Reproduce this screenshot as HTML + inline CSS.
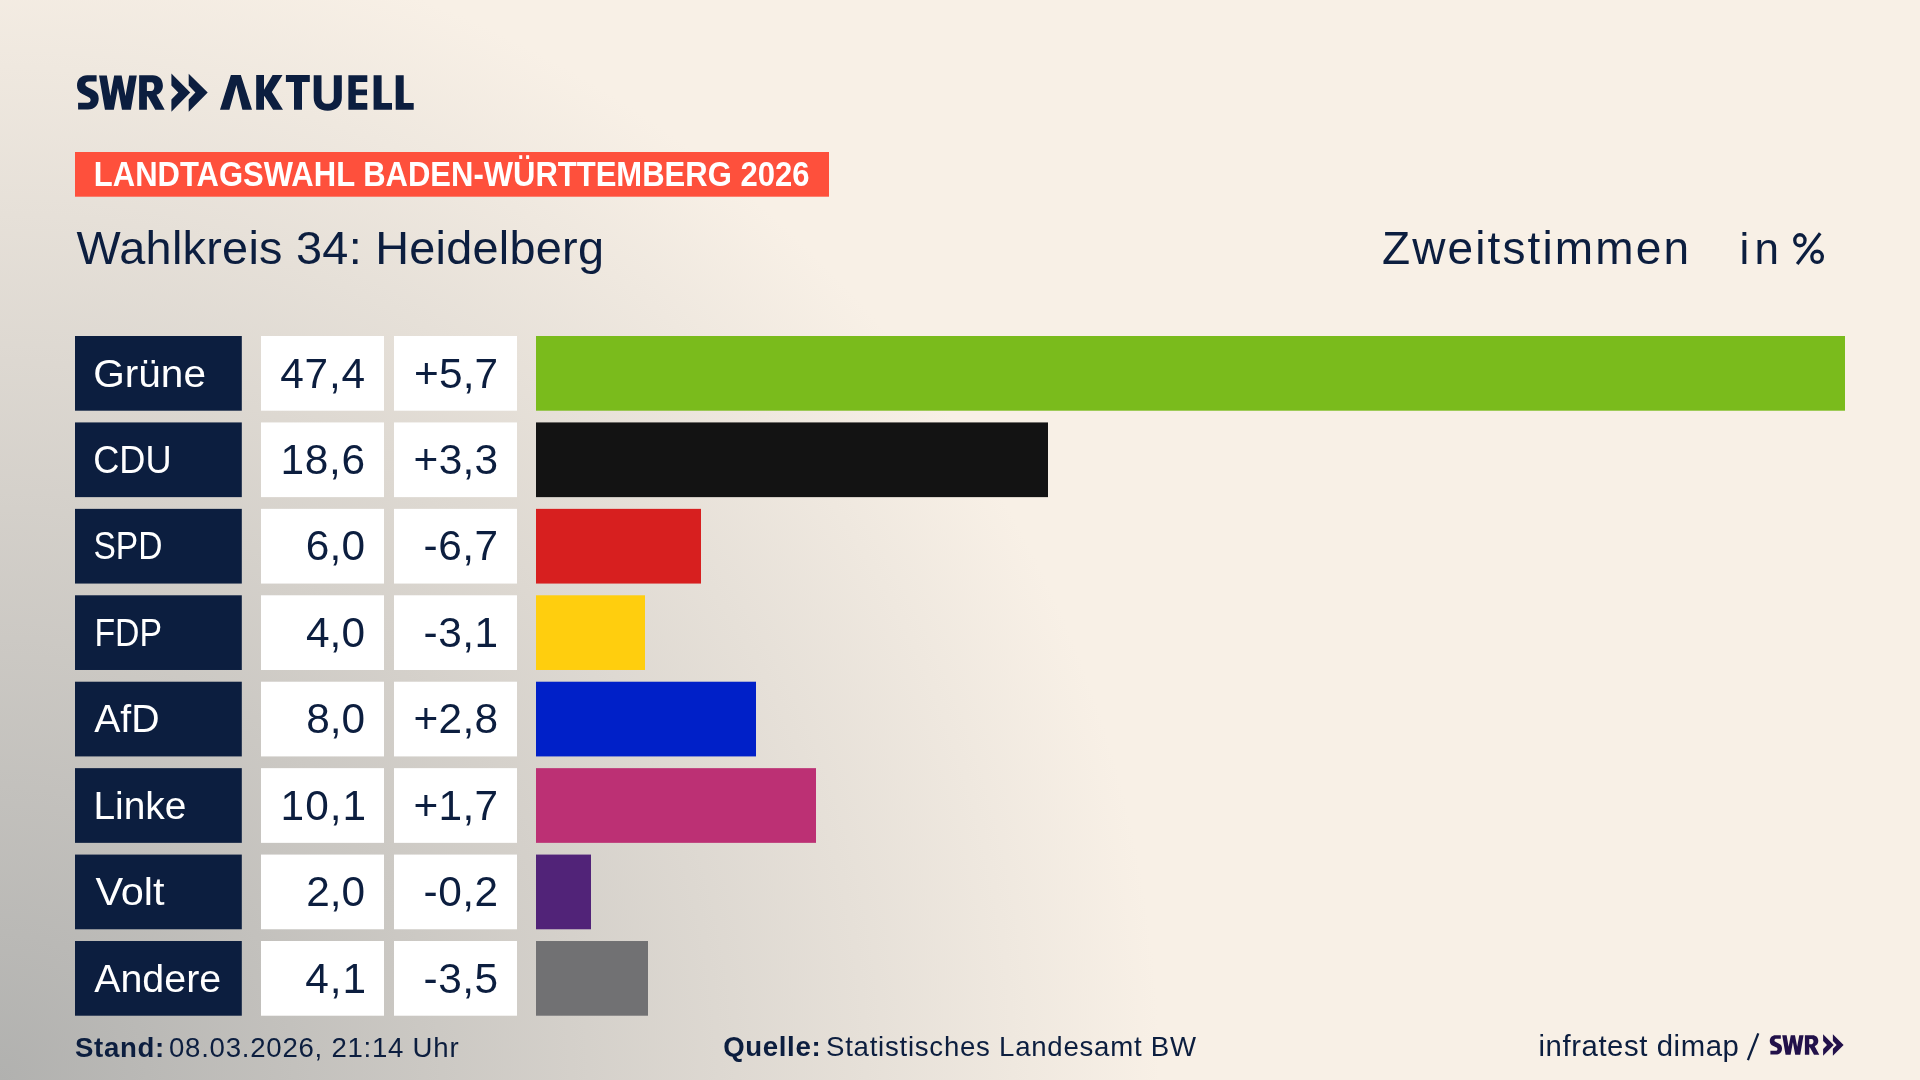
<!DOCTYPE html>
<html><head><meta charset="utf-8">
<style>
html,body{margin:0;padding:0;}
body{width:1920px;height:1080px;overflow:hidden;position:relative;background:#f8f0e6;}
svg{position:absolute;left:0;top:0;will-change:transform;}
text{font-family:"Liberation Sans",sans-serif;}
</style></head><body>
<svg width="1920" height="1080" viewBox="0 0 1920 1080">
<defs>
<radialGradient id="g1" gradientUnits="userSpaceOnUse" cx="0" cy="1080" r="1160">
<stop offset="0" stop-color="#b1b1af"/>
<stop offset="1" stop-color="#f8f0e6"/>
</radialGradient>
<g id="swrp">
<path d="M96.6,75.3 V81.4 H88.8 C86.5,81.4 85.3,82.6 85.3,84.2 C85.3,85.9 86.7,86.8 88.6,87.7 L93.6,90.2 C96.9,91.8 98.7,94.5 98.7,98.6 C98.7,105.2 94.5,109.6 88,109.6 H78.1 V102.7 H87.7 C89.6,102.7 90.6,101.6 90.6,100 C90.6,98.5 89.7,97.6 87.9,96.8 L82.4,94.1 C78.7,92.3 77,89.5 77,85.6 C77,79.5 81,75.3 87.2,75.3 Z"/>
<path d="M99.04,75.5 L106.8,75.5 L110.33,95.9 L114.2,75.5 L121.6,75.5 L125.5,95.9 L129.2,75.5 L136.8,75.5 L130.9,109.8 L122,109.8 L117.9,87.9 L113.85,109.8 L104.96,109.8 Z"/>
<path fill-rule="evenodd" d="M139.15,75.33 H152.7 C159,75.33 162.9,79.5 162.9,85.7 C162.9,90 160.5,93.3 156.5,94.8 L164.7,109.8 H155.3 L147.9,96.4 H146.9 V109.8 H139.15 Z M146.9,82.2 H151.2 C153.2,82.2 154.3,84 154.3,86.6 C154.3,89.3 153.2,91.1 151.2,91.1 H146.9 Z"/>
<path d="M171.4,73.5 L190.2,92.5 L171.4,111.7 V99.6 L178.3,92.5 L171.4,85.6 Z"/>
<path d="M188.7,73.7 L207.7,92.5 L188.7,111.7 V99.4 L195.4,92.5 L188.7,85.6 Z"/>
</g>
</defs>
<rect x="0" y="0" width="1920" height="1080" fill="#f8f0e6"/>
<rect x="0" y="0" width="1920" height="1080" fill="url(#g1)"/>
<use href="#swrp" fill="#0c1e3f"/>
<g fill="#0c1e3f">
<path d="M230.9,75 H240.8 L252,109.8 H242.4 L236.4,85.1 L229.4,109.8 H220 Z"/>
<path d="M256.2,75 H264 V89.8 L272.6,75 H282.5 L271.8,91.9 L283,109.8 H273.1 L264.5,96 L264,96.8 V109.8 H256.2 Z"/>
<path d="M285.9,75 H309.8 V82 H302 V109.8 H294 V82 H285.9 Z"/>
<path d="M313.7,75.2 H321.5 V98 C321.5,101.8 323.8,103.8 327.6,103.8 C331.4,103.8 333.8,101.8 333.8,98 V75.2 H341.8 V97.5 C341.8,105.8 336.4,110.7 327.7,110.7 C319,110.7 313.7,105.8 313.7,97.5 Z"/>
<path d="M348.4,75.2 H367.3 V82 H355.8 V89.5 H367 V95.2 H355.8 V103 H367.3 V109.8 H348.4 Z"/>
<path d="M373.6,75.2 H381.6 V103 H392 V109.8 H373.6 Z"/>
<path d="M395.7,75.2 H403.7 V103 H413.7 V109.8 H395.7 Z"/>
</g>
<rect x="75" y="152" width="754" height="44.7" fill="#fe503c"/>

<rect x="75" y="336.00" width="166.8" height="74.7" fill="#0c1e3f"/>
<rect x="261" y="336.00" width="123" height="74.7" fill="#fff"/>
<rect x="394" y="336.00" width="123" height="74.7" fill="#fff"/>
<rect x="536" y="336.00" width="1309" height="74.7" fill="#7abb1c"/>
<rect x="75" y="422.43" width="166.8" height="74.7" fill="#0c1e3f"/>
<rect x="261" y="422.43" width="123" height="74.7" fill="#fff"/>
<rect x="394" y="422.43" width="123" height="74.7" fill="#fff"/>
<rect x="536" y="422.43" width="512" height="74.7" fill="#131313"/>
<rect x="75" y="508.86" width="166.8" height="74.7" fill="#0c1e3f"/>
<rect x="261" y="508.86" width="123" height="74.7" fill="#fff"/>
<rect x="394" y="508.86" width="123" height="74.7" fill="#fff"/>
<rect x="536" y="508.86" width="165" height="74.7" fill="#d71f1f"/>
<rect x="75" y="595.29" width="166.8" height="74.7" fill="#0c1e3f"/>
<rect x="261" y="595.29" width="123" height="74.7" fill="#fff"/>
<rect x="394" y="595.29" width="123" height="74.7" fill="#fff"/>
<rect x="536" y="595.29" width="109" height="74.7" fill="#ffce0e"/>
<rect x="75" y="681.72" width="166.8" height="74.7" fill="#0c1e3f"/>
<rect x="261" y="681.72" width="123" height="74.7" fill="#fff"/>
<rect x="394" y="681.72" width="123" height="74.7" fill="#fff"/>
<rect x="536" y="681.72" width="220" height="74.7" fill="#0020c8"/>
<rect x="75" y="768.15" width="166.8" height="74.7" fill="#0c1e3f"/>
<rect x="261" y="768.15" width="123" height="74.7" fill="#fff"/>
<rect x="394" y="768.15" width="123" height="74.7" fill="#fff"/>
<rect x="536" y="768.15" width="280" height="74.7" fill="#bc3074"/>
<rect x="75" y="854.58" width="166.8" height="74.7" fill="#0c1e3f"/>
<rect x="261" y="854.58" width="123" height="74.7" fill="#fff"/>
<rect x="394" y="854.58" width="123" height="74.7" fill="#fff"/>
<rect x="536" y="854.58" width="55" height="74.7" fill="#512378"/>
<rect x="75" y="941.01" width="166.8" height="74.7" fill="#0c1e3f"/>
<rect x="261" y="941.01" width="123" height="74.7" fill="#fff"/>
<rect x="394" y="941.01" width="123" height="74.7" fill="#fff"/>
<rect x="536" y="941.01" width="112" height="74.7" fill="#717173"/>
<text x="93.80" y="186.25" font-size="34.5" font-weight="bold" fill="#fff" textLength="715.60" lengthAdjust="spacingAndGlyphs">LANDTAGSWAHL BADEN-WÜRTTEMBERG 2026</text>
<text x="76.60" y="263.90" font-size="46.8" fill="#0c1e3f" textLength="527.40" lengthAdjust="spacing">Wahlkreis 34: Heidelberg</text>
<text x="1382.00" y="263.75" font-size="46" fill="#0c1e3f" textLength="307.00" lengthAdjust="spacing">Zweitstimmen</text>
<text x="1739.60" y="263.75" font-size="44" fill="#0c1e3f" textLength="39.40" lengthAdjust="spacing">in</text>
<text x="93.20" y="386.60" font-size="38.5" fill="#fff" textLength="112.80" lengthAdjust="spacingAndGlyphs">Grüne</text>
<text x="280.20" y="387.60" font-size="42.4" fill="#0c1e3f" textLength="84.80" lengthAdjust="spacing">47,4</text>
<text x="414.00" y="387.60" font-size="42.4" fill="#0c1e3f" textLength="84.20" lengthAdjust="spacing">+5,7</text>
<text x="93.20" y="473.03" font-size="38.5" fill="#fff" textLength="78.40" lengthAdjust="spacingAndGlyphs">CDU</text>
<text x="280.40" y="474.03" font-size="42.4" fill="#0c1e3f" textLength="84.60" lengthAdjust="spacing">18,6</text>
<text x="413.60" y="474.03" font-size="42.4" fill="#0c1e3f" textLength="84.60" lengthAdjust="spacing">+3,3</text>
<text x="93.40" y="559.46" font-size="38.5" fill="#fff" textLength="69.00" lengthAdjust="spacingAndGlyphs">SPD</text>
<text x="305.80" y="560.46" font-size="42.4" fill="#0c1e3f" textLength="59.20" lengthAdjust="spacing">6,0</text>
<text x="423.60" y="560.46" font-size="42.4" fill="#0c1e3f" textLength="74.60" lengthAdjust="spacing">-6,7</text>
<text x="94.40" y="645.89" font-size="38.5" fill="#fff" textLength="67.60" lengthAdjust="spacingAndGlyphs">FDP</text>
<text x="306.00" y="646.89" font-size="42.4" fill="#0c1e3f" textLength="59.00" lengthAdjust="spacing">4,0</text>
<text x="423.60" y="646.89" font-size="42.4" fill="#0c1e3f" textLength="74.60" lengthAdjust="spacing">-3,1</text>
<text x="94.20" y="732.32" font-size="38.5" fill="#fff" textLength="65.40" lengthAdjust="spacingAndGlyphs">AfD</text>
<text x="306.20" y="733.32" font-size="42.4" fill="#0c1e3f" textLength="58.80" lengthAdjust="spacing">8,0</text>
<text x="413.40" y="733.32" font-size="42.4" fill="#0c1e3f" textLength="84.80" lengthAdjust="spacing">+2,8</text>
<text x="93.40" y="818.75" font-size="38.5" fill="#fff" textLength="93.00" lengthAdjust="spacingAndGlyphs">Linke</text>
<text x="280.60" y="819.75" font-size="42.4" fill="#0c1e3f" textLength="85.40" lengthAdjust="spacing">10,1</text>
<text x="413.40" y="819.75" font-size="42.4" fill="#0c1e3f" textLength="84.80" lengthAdjust="spacing">+1,7</text>
<text x="95.40" y="905.18" font-size="38.5" fill="#fff" textLength="69.20" lengthAdjust="spacingAndGlyphs">Volt</text>
<text x="306.20" y="906.18" font-size="42.4" fill="#0c1e3f" textLength="58.80" lengthAdjust="spacing">2,0</text>
<text x="423.60" y="906.18" font-size="42.4" fill="#0c1e3f" textLength="74.60" lengthAdjust="spacing">-0,2</text>
<text x="94.20" y="991.61" font-size="38.5" fill="#fff" textLength="127.00" lengthAdjust="spacingAndGlyphs">Andere</text>
<text x="305.20" y="992.61" font-size="42.4" fill="#0c1e3f" textLength="60.80" lengthAdjust="spacing">4,1</text>
<text x="423.60" y="992.61" font-size="42.4" fill="#0c1e3f" textLength="74.60" lengthAdjust="spacing">-3,5</text>
<text x="75.00" y="1056.50" font-size="27.6" font-weight="bold" fill="#0c1e3f" textLength="89.20" lengthAdjust="spacing">Stand:</text>
<text x="169.00" y="1056.50" font-size="27.6" fill="#0c1e3f" textLength="289.60" lengthAdjust="spacing">08.03.2026, 21:14 Uhr</text>
<text x="723.20" y="1056.25" font-size="27.6" font-weight="bold" fill="#0c1e3f" textLength="97.40" lengthAdjust="spacing">Quelle:</text>
<text x="826.00" y="1056.25" font-size="27.6" fill="#0c1e3f" textLength="370.00" lengthAdjust="spacing">Statistisches Landesamt BW</text>
<text x="1538.40" y="1055.60" font-size="29.3" fill="#0c1e3f" textLength="200.50" lengthAdjust="spacing">infratest dimap</text>
<g fill="none" stroke="#0c1e3f" stroke-width="3.3">
<ellipse cx="1799.9" cy="240.25" rx="5.15" ry="5.5"/>
<ellipse cx="1817.1" cy="256.85" rx="5.25" ry="5.6"/>
</g>
<line x1="1820.2" y1="233.2" x2="1797.2" y2="264" stroke="#0c1e3f" stroke-width="3.3"/>
<line x1="1758.3" y1="1033.3" x2="1747.9" y2="1060.2" stroke="#0c1e3f" stroke-width="2.3"/>
<g transform="translate(1769.6,1034.2) scale(0.565) translate(-76.7,-73.5)"><use href="#swrp" fill="#22114a"/></g>
</svg>
</body></html>
